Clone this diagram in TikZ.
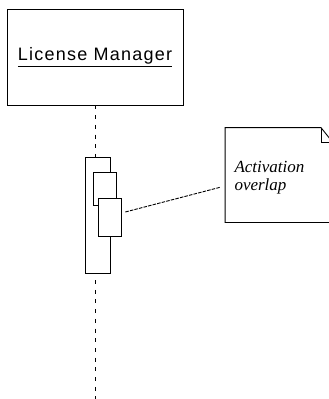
\documentclass[tikz,border=0pt]{standalone}
\usepackage{fontspec}
\setmainfont{Liberation Serif}
\setsansfont{Liberation Sans}
\newfontfamily\headfont[LetterSpace=7]{Liberation Sans}
\usetikzlibrary{positioning,calc}

\begin{document}
\begin{tikzpicture}[
x=1pt, y=-1pt,
line width=0.9pt,
obj/.style={rectangle, draw, minimum width=176pt, minimum height=96pt, font=\headfont\fontsize{18}{20}\selectfont},
act/.style={rectangle, draw, fill=white, inner sep=0pt},
notebox/.style={rectangle, minimum width=107pt, minimum height=94pt, inner sep=0pt},
notetext/.style={align=left, inner sep=0pt, font=\itshape\fontsize{17}{18}\selectfont},
lifeline/.style={dash pattern=on 4pt off 5.7pt}
]
\useasboundingbox (0,0) rectangle (329,399);

\node (lm) [obj] at (95,57) {\underline{License Manager}};
\coordinate (end) at (95,399);
\draw [lifeline] (lm) -- (end);

% nested activations
\node (act1) [act, minimum width=25pt, minimum height=116pt] at (97.5,215) {};
\node (act2) [act, minimum width=23pt, minimum height=33pt] at (104.5,188.5) {};
\node (act3) [act, minimum width=23pt, minimum height=38pt] at (109.5,217) {};

% note
\node (note) [notebox] at (279,175) {};
\draw ($(note.north east)+(-12,0)$) -- (note.north west) -- (note.south west) -- (note.south east) -- ($(note.north east)+(0,15)$) -- cycle;
\draw ($(note.north east)+(-12,0)$) -- ++(0,15) -- ++(12,0);
\node (lbl) [notetext, anchor=north west] at ($(note.north west)+(9,33)$) {Activation\\overlap};

\draw [dash pattern=on 3.5pt off 1.2pt, shorten <=4pt, shorten >=5pt] ([yshift=4pt]act3.east) -- ([yshift=-11pt]note.west);
\end{tikzpicture}
\end{document}
